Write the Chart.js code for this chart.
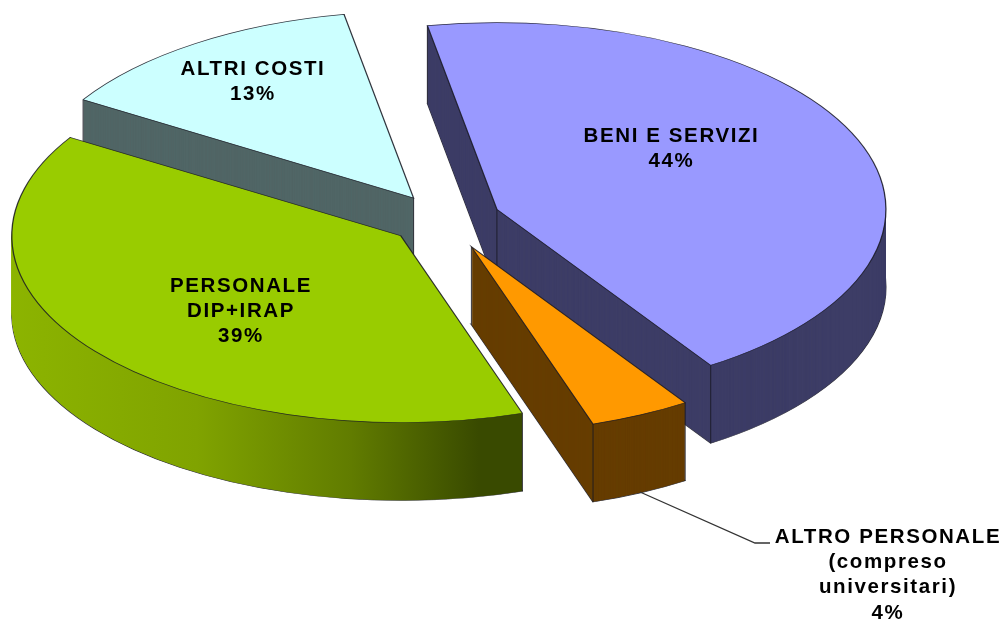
<!DOCTYPE html>
<html><head><meta charset="utf-8">
<style>html,body{margin:0;padding:0;background:#fff}canvas{display:block}</style>
<script src="https://cdn.jsdelivr.net/npm/chart.js@4/dist/chart.umd.js"></script>
</head><body>
<canvas id="c" width="1008" height="624"></canvas>
<script>
const categories = ["BENI E SERVIZI", "ALTRO PERSONALE", "PERSONALE DIP+IRAP", "ALTRI COSTI"];
const values = [43.6, 4.2, 38.9, 13.3];
const percentLabels = ["44%", "4%", "39%", "13%"];
const labelLines = [["BENI E SERVIZI"], ["ALTRO PERSONALE", "(compreso", "universitari)"], ["PERSONALE", "DIP+IRAP"], ["ALTRI COSTI"]];
const topColors = ["#9999ff", "#ff9900", "#99cc00", "#ccffff"];
const sideColors = ["#3d3d66", "#663d00", null, "#516666"];

const TILT = 0.48, DEPTH = 78, RADIUS = 389;
const explodeBy = [57, 63, 55, 54];
const drawOrder = [3, 0, 2, 1];
const labelPlace = [[671.5, 136], [888, 537], [241, 286], [253, 69]];
const LINE_H = 25.3;

function ghostOf(arc, fill, bw) {
  const g = Object.create(arc);
  g.options = {backgroundColor: fill, borderColor: "rgba(25,25,35,.85)", borderWidth: bw, borderAlign: "center",
    borderDash: [], borderDashOffset: 0, borderJoinStyle: "miter", borderRadius: 0, offset: 0, spacing: 0, circular: true};
  return g;
}

const pie3d = {
  id: "pie3d",
  beforeDatasetDraw(chart) {
    const ctx = chart.ctx, arcs = chart.getDatasetMeta(0).data;
    const grad = ctx.createLinearGradient(10, 0, 522, 0);
    grad.addColorStop(0, "#8fb800"); grad.addColorStop(0.45, "#80a300");
    grad.addColorStop(0.75, "#617c00"); grad.addColorStop(1, "#394a00");
    drawOrder.forEach(i => {
      const arc = arcs[i], mid = (arc.startAngle + arc.endAngle) / 2;
      const ex = Math.cos(mid) * explodeBy[i], ey = Math.sin(mid) * explodeBy[i] * TILT;
      const place = dy => {
        ctx.translate(arc.x + ex, arc.y + ey + dy);
        ctx.scale(1, TILT);
        ctx.translate(-arc.x, -arc.y);
      };
      const side = sideColors[i] || grad;
      ctx.save(); place(DEPTH); ghostOf(arc, side, 1.2).draw(ctx); ctx.restore();
      for (let d = DEPTH - 0.5; d > 0; d -= 0.5) {
        ctx.save(); place(d); ghostOf(arc, side, 0).draw(ctx); ctx.restore();
      }
      ctx.save();
      ctx.strokeStyle = "rgba(25,25,35,.85)"; ctx.lineWidth = 1;
      ctx.beginPath();
      [[0, 0], [Math.cos(arc.startAngle) * RADIUS, Math.sin(arc.startAngle) * RADIUS * TILT],
       [Math.cos(arc.endAngle) * RADIUS, Math.sin(arc.endAngle) * RADIUS * TILT]].forEach(p => {
        const x = arc.x + ex + p[0], y = arc.y + ey + p[1];
        ctx.moveTo(x, y); ctx.lineTo(x, y + DEPTH);
      });
      ctx.stroke(); ctx.restore();
      ctx.save(); place(0); ghostOf(arc, topColors[i], 1.3).draw(ctx); ctx.restore();
    });
    return false;
  },
  afterDatasetsDraw(chart) {
    const ctx = chart.ctx;
    ctx.save();
    ctx.strokeStyle = "#333"; ctx.lineWidth = 1.3;
    ctx.beginPath(); ctx.moveTo(640, 492); ctx.lineTo(755, 543); ctx.lineTo(770, 543); ctx.stroke();
    ctx.fillStyle = "#000"; ctx.font = "bold 20.5px 'Liberation Sans', Arial, sans-serif";
    ctx.letterSpacing = "1.6px";
    ctx.textAlign = "center"; ctx.textBaseline = "middle";
    labelLines.forEach((lines, i) => {
      lines.concat(percentLabels[i]).forEach((t, j) => ctx.fillText(t, labelPlace[i][0], labelPlace[i][1] + j * LINE_H));
    });
    ctx.restore();
  }
};

new Chart(document.getElementById("c"), {
  type: "pie",
  data: {labels: categories, datasets: [{data: values, backgroundColor: topColors, radius: RADIUS, rotation: -10.3}]},
  options: {
    responsive: false, animation: false,
    layout: {padding: {left: 0, top: 0, right: 120, bottom: 185}},
    plugins: {legend: {display: false}, tooltip: {enabled: false}}
  },
  plugins: [pie3d]
});
</script>
</body></html>
